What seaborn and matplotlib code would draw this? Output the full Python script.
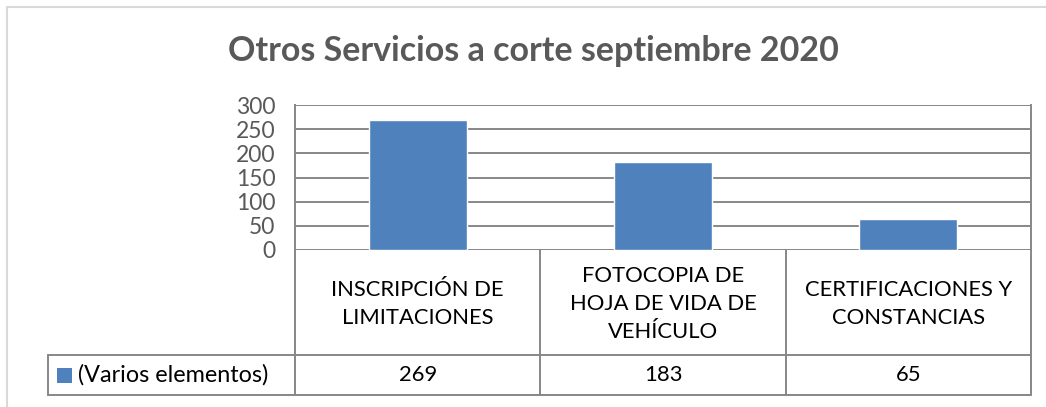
import matplotlib
matplotlib.use("Agg")
import matplotlib.pyplot as plt
import seaborn as sns
import pandas as pd
from matplotlib.patches import Rectangle

titulo = "Otros Servicios a corte septiembre 2020"
categorias = ["INSCRIPCIÓN DE\nLIMITACIONES", "FOTOCOPIA DE\nHOJA DE VIDA DE\nVEHÍCULO", "CERTIFICACIONES Y\nCONSTANCIAS"]
valores = [269, 183, 65]
serie = "(Varios elementos)"
ticks_y = [0, 50, 100, 150, 200, 250, 300]

azul = "#4F81BD"
gris_linea = "#878787"
gris_texto = "#595959"

sns.set_theme(style="white")
plt.rcParams["font.family"] = ["Lato", "DejaVu Sans"]

W, H = 1046, 407
fig = plt.figure(figsize=(W / 100, H / 100), dpi=100)

def fx(px):
    return px / W

def fy(py):
    return 1 - py / H

# marco exterior
fig.patches.append(Rectangle((fx(6.5), fy(H + 20)), 2, fy(7) - fy(H + 20), transform=fig.transFigure,
                             fill=False, edgecolor="#d9d9d9", linewidth=1.5))

left, right, top, base = 295, 1031, 105, 250
ax = fig.add_axes([fx(left), fy(base), fx(right - left), fy(top) - fy(base)])

df = pd.DataFrame({"categoria": categorias, "valor": valores})
sns.barplot(data=df, x="categoria", y="valor", color=azul, width=0.4, saturation=1, ax=ax)
ax.set_xlim(-0.5, len(categorias) - 0.5)
ax.set_ylim(ticks_y[0], ticks_y[-1])
ax.set_yticks(ticks_y)
ax.set_yticklabels([str(t) for t in ticks_y], fontsize=16.5, color=gris_texto)
ax.set_xticks([])
ax.set_xlabel("")
ax.set_ylabel("")
ax.tick_params(axis="y", length=0, pad=14)
for t in ticks_y:
    ax.axhline(t, color=gris_linea, linewidth=1.4, zorder=0)
for s in ["left", "right"]:
    ax.spines[s].set_visible(True)
    ax.spines[s].set_color(gris_linea)
    ax.spines[s].set_linewidth(1.4)
ax.spines["top"].set_visible(False)
ax.spines["bottom"].set_visible(False)

# tabla de datos
tab_top, fila, tab_bot = 250, 355, 395
tx = fig.add_axes([fx(left), fy(tab_bot), fx(right - left), fy(tab_top) - fy(tab_bot)])
tx.set_xlim(-0.5, len(categorias) - 0.5)
tx.set_ylim(tab_bot, tab_top)
tx.axis("off")
n = len(categorias)
for i in range(n + 1):
    tx.plot([i - 0.5, i - 0.5], [tab_top, tab_bot], color=gris_linea, linewidth=1.4, clip_on=False)
x_leg = -0.5 - (left - 48) / ((right - left) / n)
tx.plot([x_leg, n - 0.5], [fila, fila], color=gris_linea, linewidth=1.4, clip_on=False)
tx.plot([x_leg, n - 0.5], [tab_bot, tab_bot], color=gris_linea, linewidth=1.4, clip_on=False)
tx.plot([x_leg, x_leg], [fila, tab_bot], color=gris_linea, linewidth=1.4, clip_on=False)

for i, (c, v) in enumerate(zip(categorias, valores)):
    tx.text(i, (tab_top + fila) / 2 + 1, c, ha="center", va="center", fontsize=15.8,
            color="black", linespacing=1.5)
    tx.text(i, (fila + tab_bot) / 2, str(v), ha="center", va="center", fontsize=15.8, color="black")

fig.patches.append(Rectangle((fx(57), fy(383)), fx(15), fy(368) - fy(383), transform=fig.transFigure,
                             facecolor=azul, edgecolor="none"))
fig.text(fx(78), fy(375), serie, ha="left", va="center", fontsize=16.8, color="black")

fig.text(fx(533), fy(51), titulo, ha="center", va="center", fontsize=24.5, fontweight="bold", color=gris_texto)

fig.savefig("out.png", dpi=100, facecolor="white")
